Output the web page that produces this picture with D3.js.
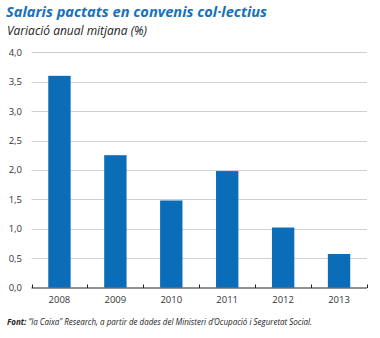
<!DOCTYPE html>
<html>
<head>
<meta charset="utf-8">
<script src="https://cdn.jsdelivr.net/npm/d3@7"></script>
<style>
  body { margin: 0; background: #fff; }
  text { font-family: "Open Sans", "Noto Sans", sans-serif; }
</style>
</head>
<body>
<svg id="chart" width="380" height="338"></svg>
<script>
var years = ['2008', '2009', '2010', '2011', '2012', '2013'];
var values = [3.6, 2.25, 1.48, 1.98, 1.02, 0.57];
var yTicks = [0, 0.5, 1, 1.5, 2, 2.5, 3, 3.5, 4];

var svg = d3.select('#chart');
var margin = { left: 31.5, right: 367, top: 52.3, bottom: 287.5 };
var blue = '#0b6db7';

var x = d3.scaleBand()
    .domain(years)
    .range([margin.left, margin.right])
    .paddingInner(0.6)
    .paddingOuter(0.3);
var y = d3.scaleLinear()
    .domain([0, 4])
    .range([margin.bottom, margin.top]);

// grid
svg.append('g')
    .selectAll('line')
    .data(yTicks.filter(function (d) { return d > 0; }))
    .enter().append('line')
    .attr('x1', margin.left)
    .attr('x2', margin.right)
    .attr('y1', function (d) { return Math.round(y(d)) + 0.5; })
    .attr('y2', function (d) { return Math.round(y(d)) + 0.5; })
    .attr('stroke', '#cfcfcf')
    .attr('stroke-width', 1);

// y labels
svg.append('g')
    .selectAll('text')
    .data(yTicks)
    .enter().append('text')
    .attr('x', 22)
    .attr('y', function (d) { return y(d) + 3.5; })
    .attr('text-anchor', 'end')
    .style('font-size', '9.5px')
    .attr('fill', '#333')
    .text(function (d) { return d3.format('.1f')(d).replace('.', ','); });

// bars
svg.append('g')
    .selectAll('rect')
    .data(values)
    .enter().append('rect')
    .attr('x', function (d, i) { return x(years[i]); })
    .attr('y', function (d) { return y(d); })
    .attr('width', x.bandwidth())
    .attr('height', function (d) { return y(0) - y(d); })
    .attr('fill', blue);

// x axis
var step = x.step();
var boundaries = d3.range(years.length + 1).map(function (i) { return margin.left + i * step; });
var ax = svg.append('g');
ax.append('line')
    .attr('x1', margin.left).attr('x2', margin.right)
    .attr('y1', y(0) + 0.5).attr('y2', y(0) + 0.5)
    .attr('stroke', '#222').attr('stroke-width', 1);
ax.selectAll('.tk')
    .data(boundaries)
    .enter().append('line')
    .attr('x1', function (d) { return Math.round(d) + 0.5; })
    .attr('x2', function (d) { return Math.round(d) + 0.5; })
    .attr('y1', y(0) - 3)
    .attr('y2', y(0) + 0.5)
    .attr('stroke', '#222');
ax.selectAll('text')
    .data(years)
    .enter().append('text')
    .attr('x', function (d) { return x(d) + x.bandwidth() / 2; })
    .attr('y', 303)
    .attr('text-anchor', 'middle')
    .style('font-size', '9.5px')
    .attr('fill', '#333')
    .text(function (d) { return d; });

// titles
svg.append('text')
    .attr('x', 6).attr('y', 17)
    .attr('fill', '#1571bd')
    .style('font-size', '15px')
    .style('font-weight', 'bold')
    .style('font-style', 'italic')
    .attr('textLength', 261)
    .attr('lengthAdjust', 'spacingAndGlyphs')
    .text('Salaris pactats en convenis col·lectius');
svg.append('text')
    .attr('x', 7).attr('y', 34.5)
    .attr('fill', '#222')
    .style('font-size', '12px')
    .style('font-style', 'italic')
    .attr('textLength', 140)
    .attr('lengthAdjust', 'spacingAndGlyphs')
    .text('Variació anual mitjana (%)');

var src = svg.append('text')
    .attr('x', 7).attr('y', 325)
    .attr('fill', '#222')
    .style('font-size', '8.5px')
    .style('font-style', 'italic')
    .attr('textLength', 305)
    .attr('lengthAdjust', 'spacingAndGlyphs');
src.append('tspan').style('font-weight', 'bold').text('Font: ');
src.append('tspan').text('“la Caixa” Research, a partir de dades del Ministeri d’Ocupació i Seguretat Social.');
</script>
</body>
</html>
